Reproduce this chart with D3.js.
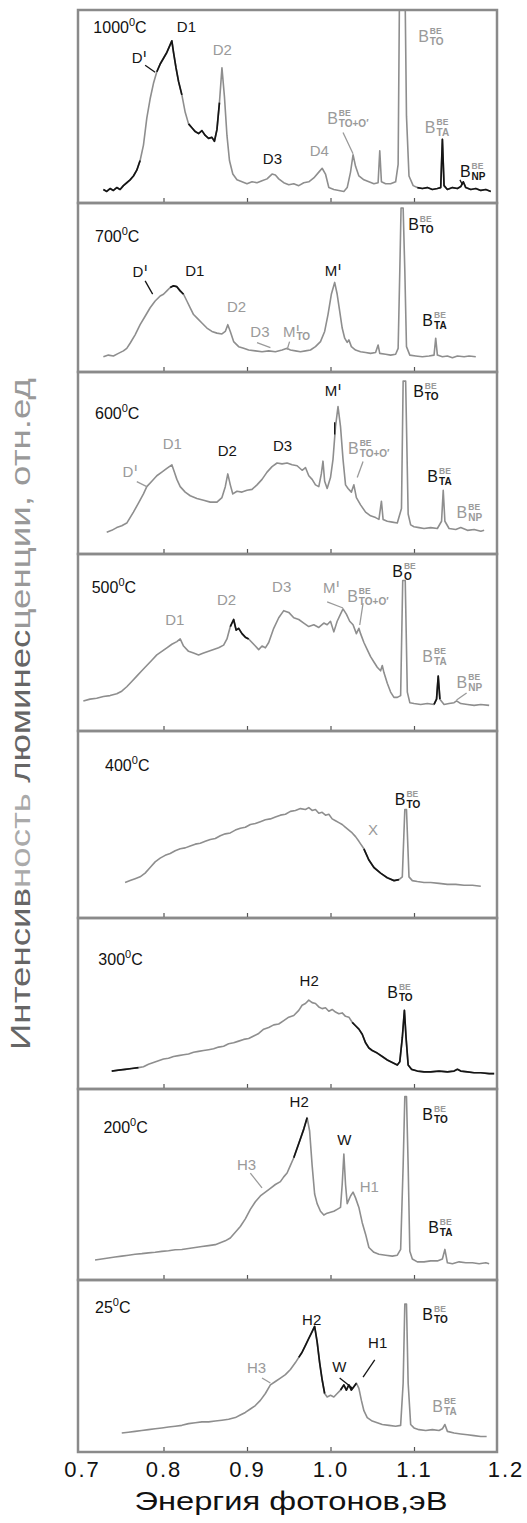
<!DOCTYPE html>
<html>
<head>
<meta charset="utf-8">
<script src="https://cdn.jsdelivr.net/npm/d3@7/dist/d3.min.js"></script>
<style>
  body { margin: 0; background: #fff; }
  svg { display: block; }
  text { font-family: Arial, "Liberation Sans", sans-serif; }
</style>
</head>
<body>
<div id="vis"></div>
<script>
// annealing temperatures, top to bottom
var temps = ['1000', '700', '600', '500', '400', '300', '200', '25'];

// spectra: [photon energy eV, intensity in % of panel height]
var spec1000 = [[0.728,7],[0.732,6],[0.736,7.5],[0.740,6.5],[0.744,8],[0.748,7],[0.752,9],[0.756,10.5],[0.760,12],[0.764,14],[0.768,17],[0.772,22],[0.776,30],[0.780,44],[0.784,54],[0.788,62],[0.792,68],[0.796,72],[0.800,75],[0.804,78],[0.807,81],[0.810,84],[0.812,78],[0.815,70],[0.818,63],[0.822,56],[0.826,47],[0.830,41],[0.834,39],[0.838,37],[0.842,36],[0.846,37.5],[0.850,35],[0.854,33.5],[0.858,34],[0.861,32],[0.864,38],[0.867,52],[0.870,70],[0.873,55],[0.876,35],[0.879,22],[0.883,15],[0.888,12],[0.894,11],[0.900,10],[0.906,11],[0.912,10.5],[0.918,11.5],[0.924,12.5],[0.930,15],[0.934,14.5],[0.938,12.5],[0.944,10.5],[0.950,9.5],[0.956,10],[0.962,9],[0.968,10.5],[0.974,11],[0.980,13],[0.986,16],[0.990,18],[0.994,15],[0.998,8],[1.004,7],[1.010,6.5],[1.016,6],[1.020,8],[1.024,16],[1.027,25],[1.030,19],[1.034,14],[1.040,12],[1.046,11],[1.052,10],[1.057,10.5],[1.059,27],[1.061,11],[1.066,10],[1.072,10],[1.078,11],[1.081,20],[1.0825,102],[1.085,102],[1.088,102],[1.0895,102],[1.091,45],[1.094,14],[1.099,9],[1.104,8],[1.110,7.5],[1.116,8],[1.122,7],[1.128,7.5],[1.132,8],[1.134,33],[1.136,9],[1.140,7],[1.146,8],[1.152,7.5],[1.156,8.5],[1.159,11],[1.162,8],[1.168,7],[1.174,7.5],[1.180,6.5],[1.186,7],[1.192,6]];
var spec700 = [[0.728,9],[0.734,10],[0.740,9.5],[0.746,11],[0.752,12.5],[0.756,14],[0.760,17],[0.766,22],[0.772,28],[0.778,33],[0.784,38],[0.790,42],[0.796,45],[0.800,46],[0.804,48],[0.808,50],[0.812,51],[0.816,50.5],[0.820,48],[0.824,46],[0.828,42],[0.832,38],[0.836,34],[0.840,32],[0.846,29],[0.852,26],[0.858,24],[0.864,23],[0.870,22.5],[0.874,24],[0.877,28],[0.880,24],[0.884,18],[0.890,15],[0.896,14],[0.902,13],[0.910,12.5],[0.918,12],[0.926,12.5],[0.934,12],[0.942,13],[0.948,14],[0.952,13],[0.958,12.5],[0.964,12],[0.970,12.5],[0.976,13],[0.982,15],[0.988,18],[0.993,24],[0.997,34],[1.001,46],[1.005,53],[1.008,46],[1.011,36],[1.014,26],[1.017,20],[1.020,17.5],[1.022,19],[1.025,15],[1.030,13],[1.036,12],[1.042,11.5],[1.048,11],[1.054,11.5],[1.057,16],[1.059,11],[1.066,10.5],[1.072,10],[1.078,10.5],[1.081,14],[1.083,60],[1.0845,97],[1.087,97],[1.089,60],[1.091,15],[1.095,10],[1.102,9.5],[1.110,9],[1.118,9.5],[1.124,10],[1.126,20],[1.128,10],[1.134,9],[1.140,9.5],[1.146,8.5],[1.152,9.5],[1.160,9],[1.166,9.5],[1.174,9]];
var spec600 = [[0.732,12],[0.738,13],[0.744,14.5],[0.750,15.5],[0.756,17],[0.760,20],[0.764,23],[0.770,28],[0.776,33],[0.780,37],[0.786,40],[0.792,43],[0.798,45],[0.804,47],[0.810,49],[0.813,45],[0.816,41],[0.820,37],[0.826,34],[0.832,32],[0.840,30.5],[0.848,29.5],[0.856,28.5],[0.864,28.5],[0.870,31],[0.874,37],[0.877,44],[0.880,38],[0.883,33],[0.888,34.5],[0.894,34],[0.900,35],[0.906,35.5],[0.912,38],[0.918,41],[0.924,45],[0.930,48],[0.936,50],[0.942,49.5],[0.948,50],[0.954,49],[0.960,48.5],[0.966,46],[0.970,47.5],[0.974,43],[0.978,41],[0.982,38],[0.986,37],[0.989,44],[0.991,51],[0.993,40],[0.996,36],[1.000,42],[1.003,52],[1.006,70],[1.009,81],[1.012,70],[1.015,52],[1.018,38],[1.021,36],[1.025,34],[1.028,38],[1.031,31],[1.036,27],[1.042,23],[1.048,21],[1.054,20],[1.058,19],[1.061,29],[1.063,19],[1.068,18],[1.074,17.5],[1.080,17],[1.085,25],[1.087,95],[1.090,95],[1.093,22],[1.096,16],[1.100,15],[1.106,14.5],[1.112,14],[1.120,14.5],[1.128,14],[1.133,18],[1.135,35],[1.137,18],[1.142,14],[1.150,13.5],[1.156,14.5],[1.164,13],[1.172,13.5],[1.180,12.5],[1.184,13]];
var spec500 = [[0.704,17],[0.712,18],[0.720,18.5],[0.728,19.5],[0.736,20],[0.744,21],[0.750,22.5],[0.756,25],[0.762,28],[0.768,31],[0.774,34],[0.780,37],[0.786,40],[0.792,43],[0.798,45],[0.804,47],[0.810,49],[0.816,50.5],[0.820,52],[0.824,48],[0.830,45],[0.836,44],[0.842,43],[0.848,44],[0.854,45],[0.860,46],[0.866,47],[0.872,48.5],[0.876,52],[0.880,59],[0.884,63],[0.887,57],[0.890,58],[0.894,55],[0.898,53],[0.902,52],[0.906,50],[0.910,48],[0.914,46],[0.918,48],[0.922,47],[0.926,50],[0.932,58],[0.938,64],[0.944,68],[0.950,67],[0.956,64],[0.962,63],[0.968,61],[0.974,59],[0.980,60],[0.986,58.5],[0.992,61],[0.996,60],[1.000,62],[1.004,56],[1.008,62],[1.012,66],[1.015,69],[1.019,66],[1.023,62],[1.027,60],[1.031,55],[1.034,58],[1.036,55],[1.040,50],[1.044,46],[1.048,42],[1.052,39],[1.056,36],[1.060,34],[1.062,37],[1.064,33],[1.068,27],[1.072,22],[1.076,19],[1.080,19],[1.084,20],[1.0865,85],[1.0895,85],[1.092,22],[1.095,16],[1.100,15.5],[1.108,15],[1.116,15.5],[1.124,15],[1.127,18],[1.129,31],[1.131,18],[1.136,15],[1.142,15.5],[1.148,16],[1.151,17],[1.156,15.5],[1.164,15],[1.172,14.5],[1.180,15],[1.190,14.5]];
var spec400 = [[0.754,19],[0.760,20],[0.766,21],[0.772,22],[0.778,24],[0.784,27],[0.790,30],[0.796,32],[0.802,33.5],[0.808,34.5],[0.814,36],[0.820,37],[0.826,37.5],[0.832,38.5],[0.838,39.5],[0.844,40],[0.850,41],[0.856,42],[0.862,42.5],[0.868,44],[0.874,45],[0.880,45.5],[0.886,47],[0.892,48],[0.898,48.5],[0.904,50],[0.910,50.5],[0.916,51.5],[0.922,52.5],[0.928,53],[0.934,54],[0.940,55],[0.946,55.5],[0.952,57],[0.958,57.5],[0.964,58.5],[0.970,58],[0.974,59],[0.978,57.5],[0.982,58],[0.986,56],[0.990,56.5],[0.994,55],[0.998,55.5],[1.002,53],[1.006,52],[1.010,51],[1.014,50],[1.018,48.5],[1.022,47],[1.026,45.5],[1.030,43.5],[1.034,41],[1.040,37],[1.046,31],[1.052,27],[1.060,24],[1.068,21.5],[1.076,20],[1.082,20.5],[1.086,22],[1.089,58],[1.091,58],[1.094,22],[1.098,20],[1.104,19.5],[1.112,19],[1.120,19],[1.130,18.5],[1.140,18],[1.150,18],[1.160,17.5],[1.170,17.5],[1.180,17]];
var spec300 = [[0.738,10.5],[0.746,11],[0.754,11.5],[0.762,12],[0.770,12.5],[0.776,13],[0.782,14.5],[0.788,15.5],[0.794,16.5],[0.800,17.5],[0.806,18],[0.812,19],[0.818,19.5],[0.824,20],[0.830,20.5],[0.836,21.5],[0.842,22],[0.848,22.5],[0.854,23],[0.860,23.5],[0.866,24.5],[0.872,25],[0.878,26.5],[0.884,27],[0.890,28],[0.896,29],[0.902,29.5],[0.908,31],[0.914,32.5],[0.920,35],[0.926,36],[0.932,37.5],[0.938,38],[0.944,40],[0.950,42],[0.956,43],[0.962,46],[0.966,49],[0.970,50],[0.974,52],[0.978,50.5],[0.982,50],[0.986,48],[0.990,47],[0.994,47.5],[0.998,45.5],[1.002,46.5],[1.006,45],[1.010,44],[1.014,44.5],[1.018,42.5],[1.022,42],[1.026,39],[1.030,37],[1.034,35],[1.038,32],[1.042,27],[1.046,24],[1.050,22.5],[1.056,21],[1.062,19],[1.068,17],[1.074,15.5],[1.080,14],[1.083,16],[1.086,30],[1.0885,46],[1.0905,30],[1.093,14],[1.097,11.5],[1.104,10.5],[1.112,10],[1.120,10],[1.130,10.5],[1.140,10],[1.148,10.5],[1.152,11.5],[1.156,10.5],[1.164,10],[1.172,9.5],[1.180,9.5],[1.190,9],[1.196,9]];
var spec200 = [[0.718,10.5],[0.726,11],[0.734,11.5],[0.742,12],[0.750,12.5],[0.758,13],[0.766,13.5],[0.774,13.8],[0.782,14.2],[0.790,14.5],[0.798,15],[0.806,15.3],[0.814,15.8],[0.822,16],[0.830,16.5],[0.838,17],[0.846,17.5],[0.854,18],[0.862,18.5],[0.868,19.5],[0.874,20.5],[0.880,22],[0.886,25],[0.892,28],[0.898,32],[0.904,37],[0.910,41],[0.916,44],[0.922,46],[0.928,48],[0.934,50],[0.940,51.5],[0.944,54],[0.948,56],[0.952,60],[0.956,64],[0.960,69],[0.964,74],[0.968,79],[0.972,85],[0.975,78],[0.978,60],[0.981,45],[0.984,40],[0.988,36],[0.992,34],[0.996,35],[1.000,35.5],[1.004,36],[1.008,37],[1.012,38],[1.014,50],[1.016,66],[1.018,50],[1.020,40],[1.024,44],[1.027,46],[1.030,43],[1.034,38],[1.038,30],[1.042,24],[1.046,17],[1.052,14.5],[1.058,13.5],[1.066,13],[1.074,12.5],[1.080,13],[1.084,16],[1.087,60],[1.089,96],[1.091,96],[1.093,60],[1.095,15],[1.098,11],[1.104,9.5],[1.112,9.5],[1.120,10],[1.128,10],[1.134,11],[1.137,16],[1.140,9],[1.146,8.5],[1.154,9.5],[1.162,9],[1.170,9],[1.178,8.5],[1.186,9],[1.190,8.5]];
var spec25 = [[0.750,11],[0.758,11.5],[0.766,12],[0.774,12.5],[0.782,13],[0.790,13.5],[0.798,14],[0.806,14.5],[0.814,15],[0.822,15.5],[0.830,16.5],[0.838,17],[0.846,17.5],[0.854,17.5],[0.862,18],[0.870,18.5],[0.878,19],[0.886,20],[0.892,21.5],[0.898,23],[0.904,25],[0.910,27],[0.916,30],[0.922,34],[0.928,39],[0.934,41],[0.940,43],[0.946,45],[0.952,48],[0.958,52],[0.962,55],[0.966,58],[0.970,62],[0.974,66],[0.978,70],[0.981,73],[0.984,64],[0.987,52],[0.990,42],[0.993,34],[0.996,32],[1.000,33],[1.004,32],[1.008,34],[1.012,36],[1.016,39],[1.019,36],[1.022,39],[1.025,36],[1.028,38],[1.031,40],[1.034,37],[1.037,30],[1.040,24],[1.044,20],[1.050,18],[1.056,17],[1.062,16],[1.070,15.5],[1.078,15],[1.084,15.5],[1.087,40],[1.089,86],[1.091,86],[1.093,40],[1.096,16],[1.100,14],[1.106,13],[1.114,12.5],[1.122,13],[1.130,12.5],[1.134,13.5],[1.137,16],[1.140,12],[1.148,11],[1.156,10.5],[1.164,10],[1.172,9.5],[1.180,9],[1.187,9]];
var spectra = [spec1000, spec700, spec600, spec500, spec400, spec300, spec200, spec25];

// energy ranges printed dark in the scan
var darkParts = [
  [[0.72,0.775],[0.79,0.822],[0.828,0.868],[1.10,1.2]],
  [[0.806,0.824]],
  [],
  [[0.878,0.902],[1.124,1.134]],
  [[1.038,1.084]],
  [[0.73,0.772],[1.026,1.2]],
  [[0.955,0.973]],
  [[0.960,0.994],[1.012,1.032]]
];

// peak labels: main text, superscript, subscript, energy, intensity, dark?
var labels1000 = [['D1','','',0.816,88.5,1],['D','I','',0.762,72.4,1],['D2','','',0.859,76.6,0],['D3','','',0.919,20.3,1],['D4','','',0.975,24.5,0],['B','BE','TO+O′',0.996,41.1,0],['B','BE','TO',1.105,83.3,0],['B','BE','TA',1.113,36.5,0],['B','BE','NP',1.155,13.5,1]];
var labels700 = [['D','I','',0.763,56.3,1],['D1','','',0.826,56.9,1],['D2','','',0.876,35.3,0],['D3','','',0.904,21,0],['M','I','TO',0.943,21,0],['M','I','',0.993,56.9,1],['B','BE','TO',1.093,83.8,1],['B','BE','TA',1.110,27,1]];
var labels600 = [['D1','','',0.799,57.5,0],['D','I','',0.751,42.5,0],['D2','','',0.865,53.6,1],['D3','','',0.931,56.4,1],['M','I','',0.993,86.7,1],['B','BE','TO+O′',1.021,54.7,0],['B','BE','TO',1.099,86.2,1],['B','BE','TA',1.116,39.8,1],['B','BE','NP',1.151,19.9,0]];
var labels500 = [['D1','','',0.802,59.9,0],['D2','','',0.864,71.2,0],['D3','','',0.930,78.5,0],['M','I','',0.991,78,0],['B','BE','TO+O′',1.020,72.9,0],['B','BE','O',1.074,87,1],['B','BE','TA',1.110,39,0],['B','BE','NP',1.151,24.3,0]];
var labels400 = [['X','','',1.045,44.3,0],['B','BE','TO',1.077,60.5,1]];
var labels300 = [['H2','','',0.963,60,1],['B','BE','TO',1.068,53.5,1]];
var labels200 = [['H2','','',0.951,90.6,1],['H3','','',0.888,57.6,0],['W','','',1.008,70.7,1],['H1','','',1.035,46.1,0],['B','BE','TO',1.110,83.8,1],['B','BE','TA',1.117,24.6,1]];
var labels25 = [['H2','','',0.966,73.8,1],['H3','','',0.900,45.9,0],['W','','',1.002,46.5,1],['H1','','',1.045,60.5,1],['B','BE','TO',1.110,76.7,1],['B','BE','TA',1.122,23.3,0]];
var peakLabels = [labels1000, labels700, labels600, labels500, labels400, labels300, labels200, labels25];

// leader lines from labels to peaks: e1, v1, e2, v2, dark?
var leaders = [
  [[0.778,71.4,0.790,67.7,1],[1.015,36.5,1.027,25.5,0],[1.158,9.5,1.155,12,1]],
  [[0.778,53.9,0.787,46.1,1],[0.912,17.4,0.928,14.4,0],[0.951,18,0.948,13.2,0]],
  [[0.768,39.8,0.780,37,0],[1.005,72.4,1.005,65.7,1],[1.039,50.8,1.032,42,0]],
  [[0.996,72.9,1.015,69.5,0],[1.039,72.3,1.035,59.9,0],[1.151,17.5,1.163,21.5,0]],
  [],
  [],
  [[0.904,56,0.918,48.2,0]],
  [[0.918,43,0.928,40.1,0],[1.011,43,1.026,37.2,1],[1.053,53.5,1.039,43.6,1]]
];

// position of temperature caption in each panel: energy, intensity
var tempPos = [[0.716,88],[0.718,77.2],[0.718,74],[0.714,78],[0.730,78.4],[0.722,72.4],[0.728,77],[0.718,80.8]];

var xTicks = [0.7, 0.8, 0.9, 1.0, 1.1, 1.2];
var xTitle = 'Энергия фотонов,эВ';
var yTitle = ['Интенсив', 'ность ', 'люминес', 'ценции, отн.ед'];

var width = 527, height = 1523;
var panelTops = [10, 203, 372, 554, 731, 918, 1089, 1280];
var plotBottom = 1452;
var left = 78, right = 497;
var grey = '#8e8e8e', dark = '#151515', frameCol = '#8a8a8a';

var svg = d3.select('#vis').append('svg')
  .attr('width', width)
  .attr('height', height);

var x = d3.scaleLinear().domain([0.7, 1.2]).range([80, 497.5]);

var line = d3.line()
  .x(function (d) { return x(d[0]); });

temps.forEach(function (t, i) {
  var top = panelTops[i];
  var bottom = i < panelTops.length - 1 ? panelTops[i + 1] : plotBottom;
  var y = d3.scaleLinear().domain([0, 100]).range([bottom, top]);
  line.y(function (d) { return y(d[1]); });

  var g = svg.append('g').attr('class', 'panel');

  g.append('clipPath').attr('id', 'clip' + i)
    .append('rect')
    .attr('x', left).attr('y', top + 1)
    .attr('width', right - left).attr('height', bottom - top - 1);

  var curves = g.append('g').attr('clip-path', 'url(#clip' + i + ')');

  curves.append('path')
    .datum(spectra[i])
    .attr('fill', 'none')
    .attr('stroke', grey)
    .attr('stroke-width', 1.6)
    .attr('stroke-linejoin', 'round')
    .attr('d', line);

  darkParts[i].forEach(function (r) {
    var pts = spectra[i].filter(function (d) { return d[0] >= r[0] && d[0] <= r[1]; });
    curves.append('path')
      .datum(pts)
      .attr('fill', 'none')
      .attr('stroke', dark)
      .attr('stroke-width', 1.7)
      .attr('stroke-linejoin', 'round')
      .attr('d', line);
  });

  // frame
  g.append('rect')
    .attr('x', left).attr('y', top)
    .attr('width', right - left).attr('height', bottom - top)
    .attr('fill', 'none')
    .attr('stroke', frameCol)
    .attr('stroke-width', 2.5);

  // inner ticks on bottom edge
  var ax = g.append('g')
    .attr('transform', 'translate(0,' + (bottom - 1) + ')')
    .call(d3.axisTop(x).tickValues([0.8, 0.9, 1.0, 1.1]).tickSize(4).tickFormat(''));
  ax.select('.domain').remove();
  ax.selectAll('line').attr('stroke', '#555').attr('stroke-width', 1.2);

  // temperature caption
  var tp = tempPos[i];
  var tt = g.append('text')
    .attr('x', x(tp[0])).attr('y', y(tp[1]))
    .attr('font-size', 16).attr('fill', '#111');
  tt.append('tspan').text(t);
  tt.append('tspan').attr('dy', -7).attr('font-size', 11).text('0');
  tt.append('tspan').attr('dy', 7).text('C');

  // peak labels
  peakLabels[i].forEach(function (l) {
    var col = l[5] ? dark : '#9a9a9a';
    var isB = l[0] === 'B';
    var fs = isB ? 16 : 15;
    var px = x(l[3]), py = y(l[4]);
    var main = g.append('text')
      .attr('x', px).attr('y', py)
      .attr('font-size', fs).attr('fill', col)
      .text(l[0]);
    var w = main.node().getComputedTextLength();
    if (l[1]) {
      g.append('text')
        .attr('x', px + w + 1).attr('y', py - (isB ? 8 : 6))
        .attr('font-size', isB ? 8.5 : 9)
        .attr('font-weight', 'bold')
        .attr('fill', isB ? '#9a9a9a' : col)
        .text(l[1]);
    }
    if (l[2]) {
      g.append('text')
        .attr('x', px + w + 1).attr('y', py + 3)
        .attr('font-size', 10).attr('font-weight', 'bold')
        .attr('fill', col)
        .text(l[2]);
    }
  });

  leaders[i].forEach(function (s) {
    g.append('line')
      .attr('x1', x(s[0])).attr('y1', y(s[1]))
      .attr('x2', x(s[2])).attr('y2', y(s[3]))
      .attr('stroke', s[4] ? dark : '#9a9a9a')
      .attr('stroke-width', 1.3);
  });
});

// bottom energy axis labels
var bx = svg.append('g')
  .attr('transform', 'translate(0,' + plotBottom + ')')
  .call(d3.axisBottom(x).tickValues(xTicks).tickSize(0).tickPadding(8).tickFormat(d3.format('.1f')));
bx.select('.domain').remove();
bx.selectAll('text')
  .attr('font-size', 22)
  .attr('fill', '#111')
  .attr('font-family', 'Arial, "Liberation Sans", sans-serif')
  .attr('letter-spacing', 2)
  .attr('dy', '0.75em');
bx.selectAll('.tick').filter(function (d) { return d === 1.2; })
  .select('text').attr('dx', 8);
bx.selectAll('.tick').filter(function (d) { return d === 0.7; })
  .select('text').attr('dx', 2);

svg.append('text')
  .attr('x', 291).attr('y', 1510)
  .attr('text-anchor', 'middle')
  .attr('font-size', 26)
  .attr('fill', '#111')
  .attr('textLength', 313)
  .attr('lengthAdjust', 'spacingAndGlyphs')
  .text(xTitle);

// vertical intensity title
var yt = svg.append('text')
  .attr('transform', 'translate(30,714) rotate(-90)')
  .attr('text-anchor', 'middle')
  .attr('font-size', 27)
  .attr('font-family', '"Liberation Sans Narrow", "DejaVu Sans Condensed", Arial, sans-serif')
  .attr('textLength', 672)
  .attr('lengthAdjust', 'spacingAndGlyphs');
var ycols = ['#666', '#aaa', '#666', '#999'];
yTitle.forEach(function (s, k) {
  yt.append('tspan').attr('fill', ycols[k]).text(s);
});
</script>
</body>
</html>
